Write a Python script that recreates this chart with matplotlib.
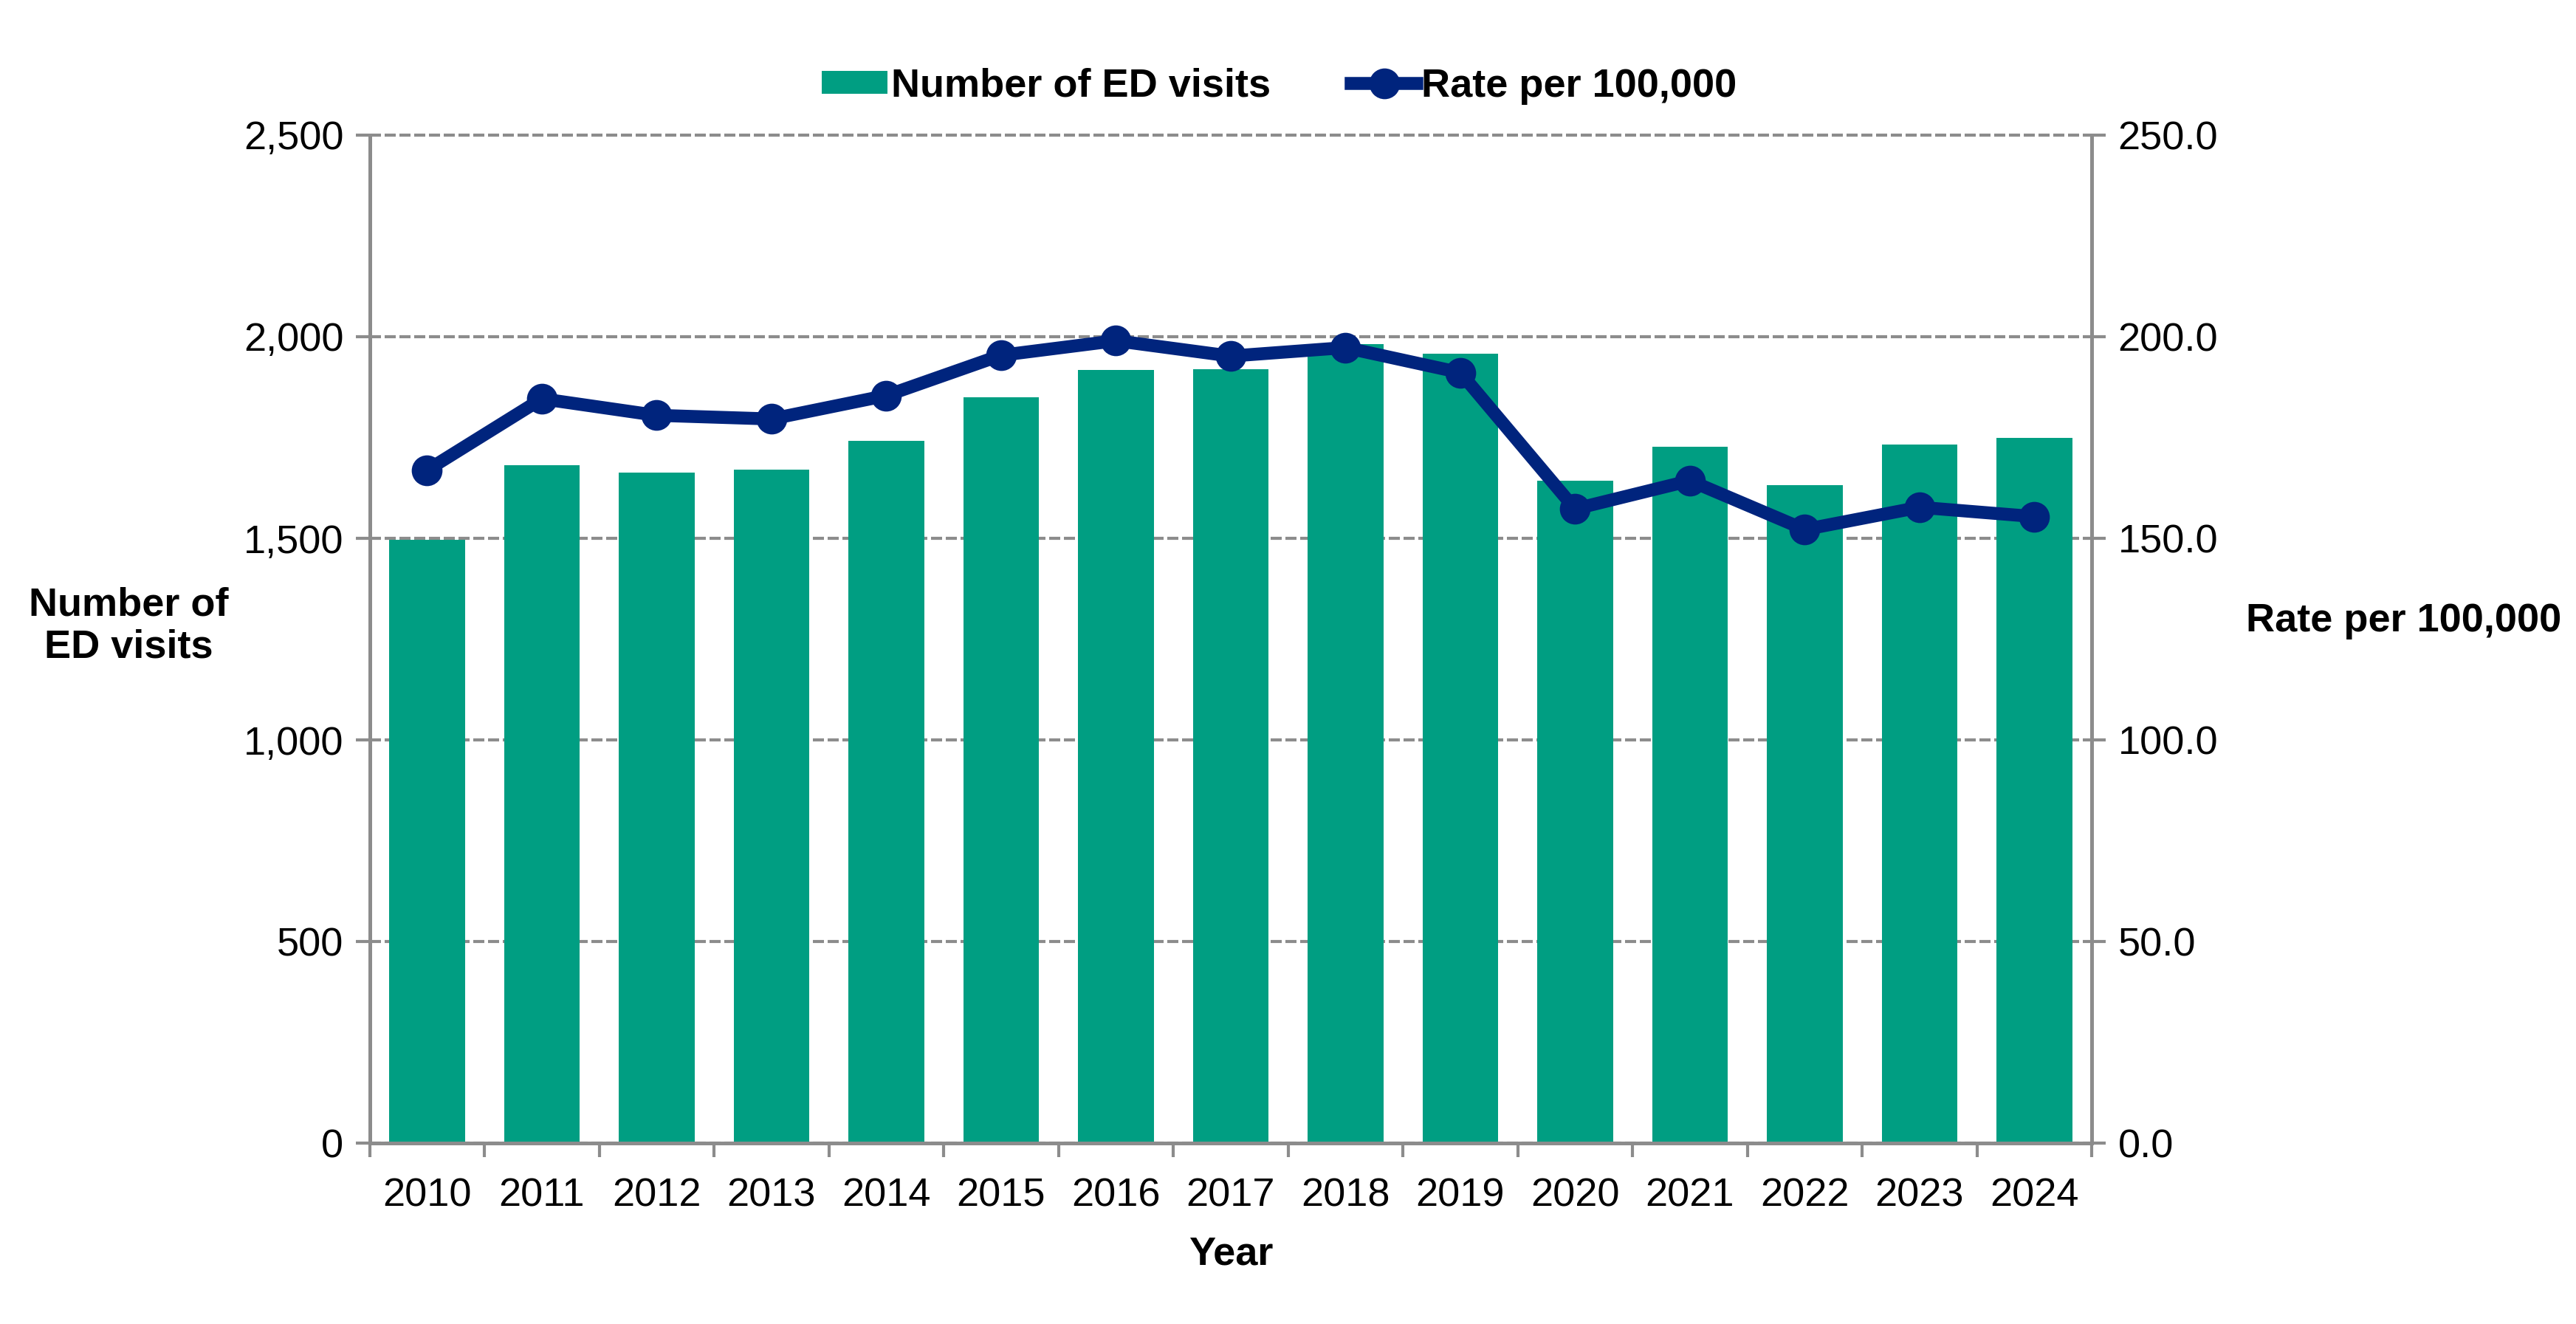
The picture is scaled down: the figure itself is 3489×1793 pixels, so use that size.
#!/usr/bin/env python
# encoding: utf-8

'''
ED visits per year (bars) with rate per 100,000 (line, right axis)
'''

import numpy as np
import matplotlib
matplotlib.use("Agg")
import matplotlib.pyplot as plt
from matplotlib.ticker import FuncFormatter, FixedLocator

plt.rcParams['font.family'] = ['Liberation Sans', 'DejaVu Sans']

years = ['2010', '2011', '2012', '2013', '2014', '2015', '2016', '2017',
         '2018', '2019', '2020', '2021', '2022', '2023', '2024']
visits = [1497, 1681, 1663, 1670, 1741, 1850, 1917, 1919,
          1982, 1958, 1642, 1727, 1632, 1732, 1749]
rate = [166.9, 184.6, 180.5, 179.6, 185.4, 195.4, 199.0, 195.2,
        197.3, 191.1, 157.3, 164.3, 152.2, 157.7, 155.4]

GREEN = '#009E82'
NAVY = '#00247D'
GREY = '#8C8C8C'
FS = 13

fig = plt.figure(figsize=(3489 / 300., 1793 / 300.), dpi=300)
ax = fig.add_axes([0.1435, 0.1365, 0.812 - 0.1435, 0.898 - 0.1365])
ax2 = ax.twinx()

x = np.arange(len(years))
bars = ax.bar(x, visits, width=0.66, color=GREEN, zorder=2,
              label='Number of ED visits')
line, = ax2.plot(x, rate, color=NAVY, lw=4.2, marker='o', ms=9,
                 zorder=3, label='Rate per 100,000')

ax.set_xlim(-0.5, len(years) - 0.5)
ax.set_ylim(0, 2500)
ax2.set_ylim(0, 250)
ax.set_yticks(np.arange(0, 2501, 500))
ax2.set_yticks(np.arange(0, 251, 50))
ax.yaxis.set_major_formatter(FuncFormatter(lambda v, p: '{:,.0f}'.format(v)))
ax2.yaxis.set_major_formatter(FuncFormatter(lambda v, p: '%.1f' % v))

ax.grid(axis='y', color=GREY, ls=(0, (3.6, 1.2)), lw=1.0, zorder=0,
        clip_on=False)
ax.set_axisbelow(True)

ax.set_xticks(x)
ax.set_xticklabels(years)
ax.xaxis.set_minor_locator(FixedLocator(np.arange(-0.5, len(years), 1.0)))
ax.tick_params(axis='x', which='major', length=0, pad=11, labelsize=FS)
ax.tick_params(axis='x', which='minor', length=4.5, width=1.0, color=GREY)
ax.tick_params(axis='y', length=4.5, width=1.0, color=GREY, labelsize=FS, pad=4)
ax2.tick_params(axis='y', length=4.5, width=1.0, color=GREY, labelsize=FS, pad=4)

for a in (ax, ax2):
    a.spines['top'].set_visible(False)
    for s in ('left', 'right', 'bottom'):
        a.spines[s].set_color(GREY)
        a.spines[s].set_linewidth(1.2)

ax.set_xlabel('Year', fontsize=FS, fontweight='bold', labelpad=7)
fig.text(0.05, 0.527, 'Number of\nED visits', ha='center', va='center',
         fontsize=FS, fontweight='bold', linespacing=1.2)
fig.text(0.933, 0.531, 'Rate per 100,000', ha='center', va='center',
         fontsize=FS, fontweight='bold')

fig.legend([bars, line], ['Number of ED visits', 'Rate per 100,000'],
           loc='center', bbox_to_anchor=(0.4965, 0.935), ncol=2, frameon=False,
           prop={'weight': 'bold', 'size': FS}, handlelength=1.65,
           handleheight=0.5, handletextpad=0.1, columnspacing=2.0)

fig.savefig('out.png', dpi=300)
